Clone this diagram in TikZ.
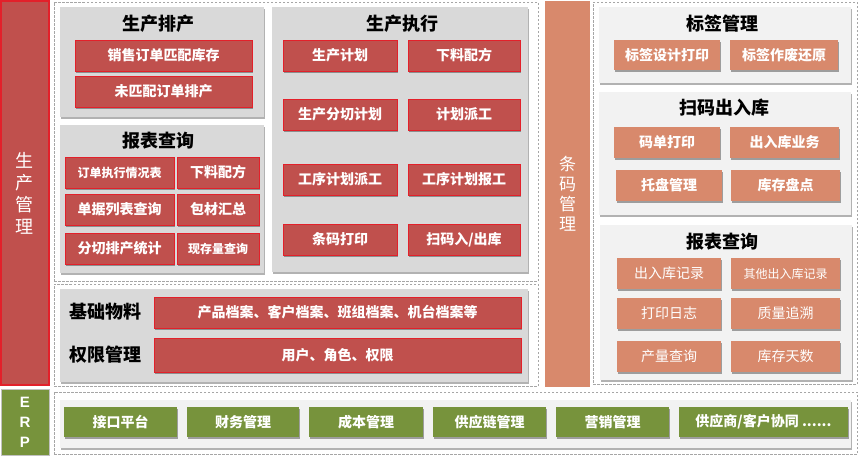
\documentclass[tikz,border=0pt]{standalone}
\usepackage{fontspec}
\setmainfont{Noto Sans CJK SC}
\newfontfamily\latinsans{Liberation Sans}
\usetikzlibrary{shadows}
\definecolor{cred}{HTML}{C0504D}
\definecolor{cbord}{HTML}{E3202A}
\definecolor{corange}{HTML}{D8896C}
\definecolor{cgreen}{HTML}{77933C}
\definecolor{cpanel}{HTML}{D9D9D9}
\definecolor{cpanelL}{HTML}{F2F2F2}
\definecolor{cdash}{HTML}{A6A6A6}
\tikzset{
  shd/.style={drop shadow={shadow xshift=1.2pt,shadow yshift=-1.6pt,opacity=0.35,fill=black}},
  pshd/.style={drop shadow={shadow xshift=1.2pt,shadow yshift=-2pt,opacity=0.3,fill=black}},
  basebox/.style={inner sep=0pt, align=center},
  redbox/.style={basebox, shd, fill=cred, draw=cbord, line width=0.8pt, text=white, font=\bfseries\fontsize{14}{16}\selectfont},
  redsmall/.style={redbox, font=\bfseries\fontsize{12}{14}\selectfont},
  orbox/.style={basebox, shd, fill=corange, text=white, font=\bfseries\fontsize{14}{16}\selectfont},
  orlight/.style={orbox, font=\fontsize{14}{16}\selectfont},
  orsmall/.style={orbox, font=\fontsize{12}{14}\selectfont},
  grbox/.style={basebox, shd, fill=cgreen, text=white, font=\bfseries\fontsize{14}{16}\selectfont},
  panel/.style={basebox, pshd, fill=cpanel},
  panelL/.style={basebox, pshd, fill=cpanelL},
  dashbox/.style={basebox, draw=cdash, dashed, line width=0.6pt, dash pattern=on 2.5pt off 1.5pt},
  ttl/.style={inner sep=0pt, text=black, font=\bfseries\fontsize{18}{20}\selectfont},
  bigred/.style={basebox, fill=cred, draw=cbord, line width=1.2pt, text=white, font=\fontsize{18}{22}\selectfont},
  bigor/.style={basebox, fill=corange, text=white, font=\fontsize{17}{20}\selectfont},
  erpbox/.style={basebox, fill=cgreen, draw=cdash!70, line width=0.8pt, text=white, font=\latinsans\bfseries\fontsize{15}{20}\selectfont},
}
\newcommand\bx[7]{\node[#1, minimum width={#5-#3}, minimum height={#6-#4}] (#2) at ({(#3+#5)/2},{(#4+#6)/2}) {#7};}
\begin{document}
\begin{tikzpicture}[x=1pt,y=-1pt]
\fill[white] (0,0) rectangle (860,456);
\useasboundingbox (0,0) rectangle (860,456);
% side columns
\bx{bigred}{pm}{1}{1}{49}{385}{生\\产\\管\\理}
\bx{erpbox}{erp}{1}{389}{49}{455}{E\\R\\P}
\bx{bigor}{bm}{545}{1}{590}{387}{条\\码\\管\\理}
% dashed regions
\bx{dashbox}{d1}{54}{2}{538}{281}{}
\bx{dashbox}{d2}{54}{284}{538}{386}{}
\bx{dashbox}{d3}{593}{2}{857}{384}{}
\bx{dashbox}{d4}{54}{392}{857}{454}{}
% panels
\bx{panel}{p1}{60}{7}{264}{117}{}
\bx{panel}{p2}{60}{125}{264}{273}{}
\bx{panel}{p3}{272}{7}{528}{272}{}
\bx{panel}{p4}{60}{289}{528}{382}{}
\bx{panelL}{p5}{599}{7}{851}{83}{}
\bx{panelL}{p6}{599}{92}{851}{215}{}
\bx{panelL}{p7}{600}{225}{852}{380}{}
\bx{panelL}{p8}{60}{400}{851}{448}{}
% titles
\node[ttl] (t1) at (158,24) {生产排产};
\node[ttl] (t2) at (158,141) {报表查询};
\node[ttl] (t3) at (402,24) {生产执行};
\node[ttl] (t4) at (105,312) {基础物料};
\node[ttl] (t5) at (105,355) {权限管理};
\node[ttl] (t6) at (722,24) {标签管理};
\node[ttl] (t7) at (724,108) {扫码出入库};
\node[ttl] (t8) at (722,242) {报表查询};
% 生产排产
\bx{redbox}{a1}{75}{40}{252}{71}{销售订单匹配库存}
\bx{redbox}{a2}{75}{76}{252}{107}{未匹配订单排产}
% 报表查询 left
\bx{redsmall}{b1}{65}{157}{174}{188}{订单执行情况表}
\bx{redbox}{b2}{177}{157}{259}{188}{下料配方}
\bx{redbox}{b3}{65}{194}{174}{225}{单据列表查询}
\bx{redbox}{b4}{177}{194}{259}{225}{包材汇总}
\bx{redbox}{b5}{65}{233}{174}{264}{分切排产统计}
\bx{redsmall}{b6}{177}{233}{259}{264}{现存量查询}
% 生产执行
\bx{redbox}{c1}{283}{40}{397}{71}{生产计划}
\bx{redbox}{c2}{408}{40}{520}{71}{下料配方}
\bx{redbox}{c3}{283}{99}{397}{130}{生产分切计划}
\bx{redbox}{c4}{408}{99}{520}{130}{计划派工}
\bx{redbox}{c5}{283}{164}{397}{195}{工序计划派工}
\bx{redbox}{c6}{408}{164}{520}{195}{工序计划报工}
\bx{redbox}{c7}{283}{224}{397}{255}{条码打印}
\bx{redbox}{c8}{408}{224}{520}{255}{扫码入/出库}
% 基础物料 / 权限管理
\bx{redbox}{e1}{154}{297}{521}{328}{产品档案、客户档案、班组档案、机台档案等}
\bx{redbox}{e2}{154}{338}{521}{372}{用户、角色、权限}
% 标签管理
\bx{orbox}{f1}{614}{40}{720}{70}{标签设计打印}
\bx{orbox}{f2}{730}{40}{838}{70}{标签作废还原}
% 扫码出入库
\bx{orbox}{g1}{614}{127}{720}{158}{码单打印}
\bx{orbox}{g2}{730}{127}{839}{158}{出入库业务}
\bx{orbox}{g3}{616}{170}{722}{201}{托盘管理}
\bx{orbox}{g4}{731}{170}{840}{201}{库存盘点}
% 报表查询 right
\bx{orlight}{h1}{617}{258}{721}{289}{出入库记录}
\bx{orsmall}{h2}{731}{258}{840}{289}{其他出入库记录}
\bx{orlight}{h3}{617}{298}{721}{329}{打印日志}
\bx{orlight}{h4}{731}{298}{840}{329}{质量追溯}
\bx{orlight}{h5}{617}{341}{721}{372}{产量查询}
\bx{orlight}{h6}{731}{341}{840}{372}{库存天数}
% ERP
\bx{grbox}{k1}{64}{407}{177}{437}{接口平台}
\bx{grbox}{k2}{187}{407}{299}{437}{财务管理}
\bx{grbox}{k3}{309}{407}{423}{437}{成本管理}
\bx{grbox}{k4}{433}{407}{546}{437}{供应链管理}
\bx{grbox}{k5}{556}{407}{669}{437}{营销管理}
\bx{grbox}{k6}{679}{407}{848}{437}{供应商/客户协同 ......}
\end{tikzpicture}
\end{document}
